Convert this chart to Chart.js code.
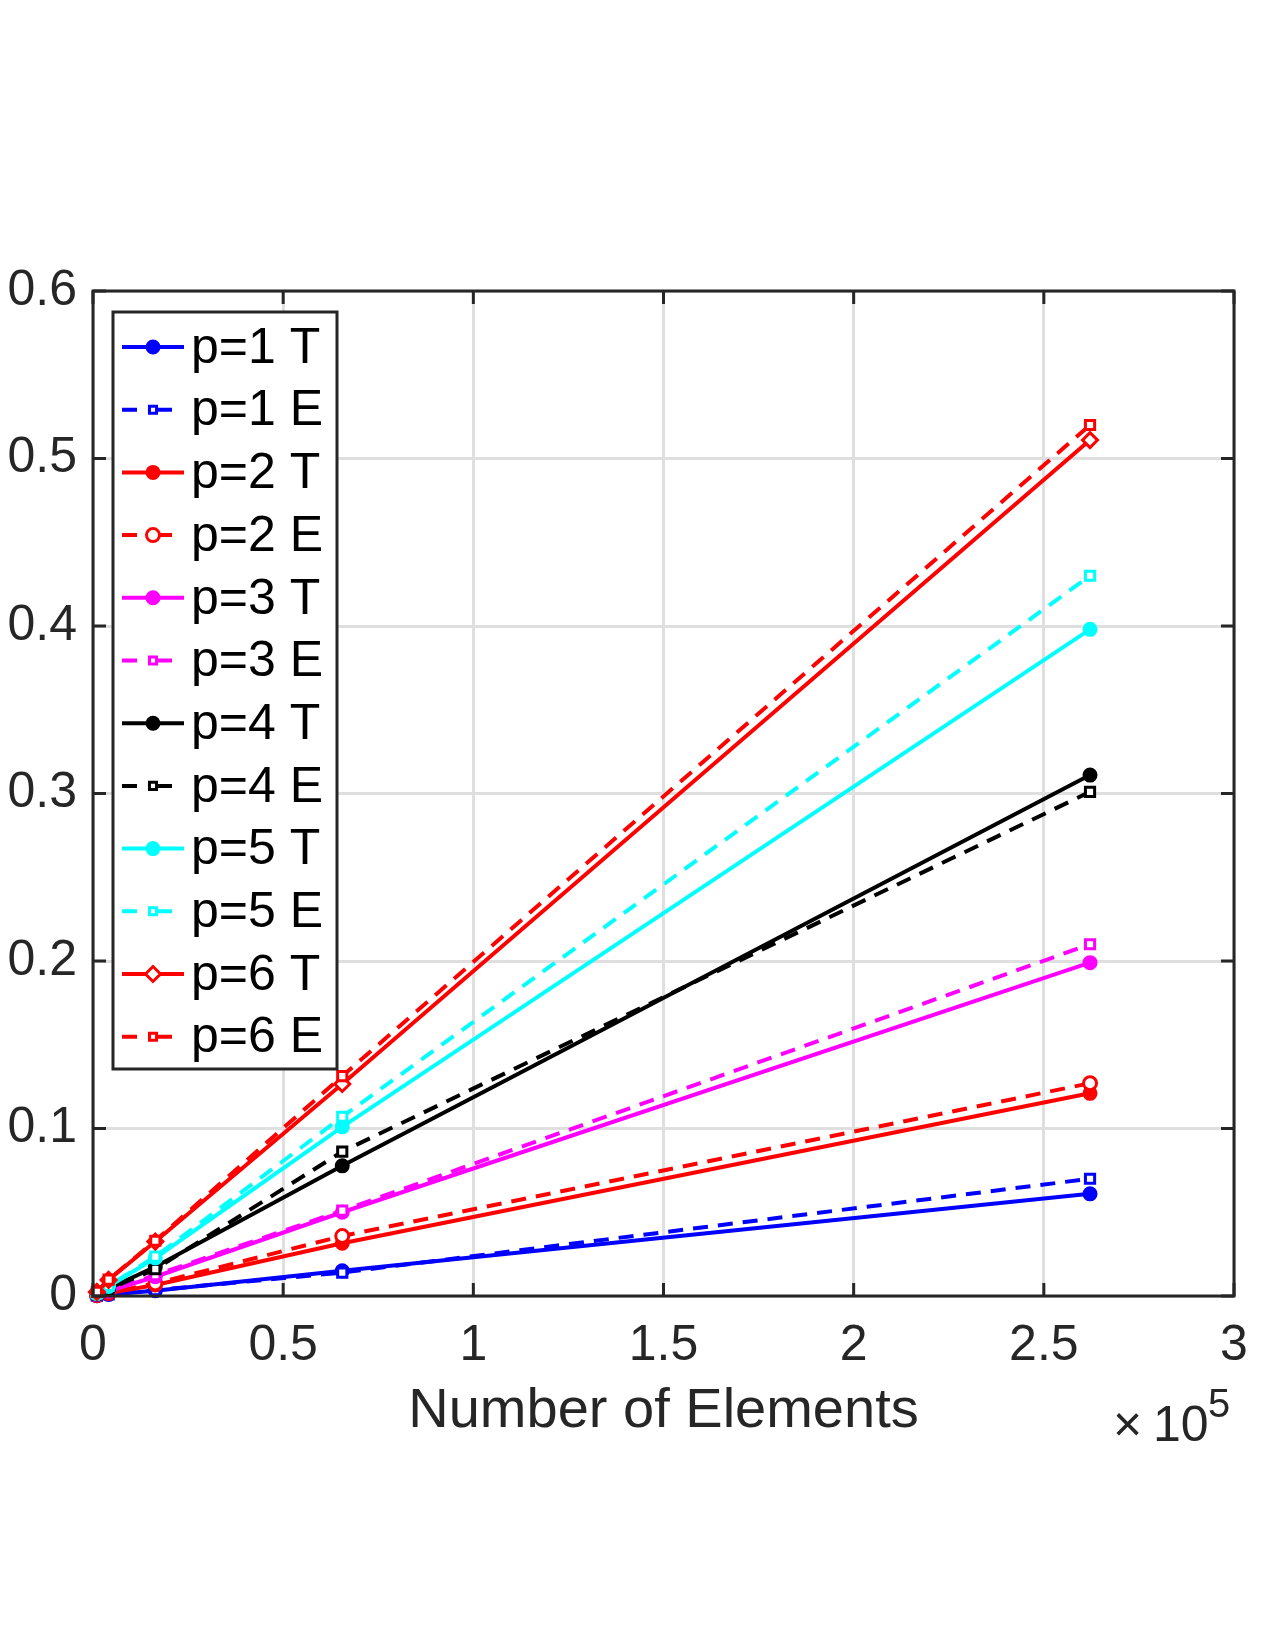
<!DOCTYPE html>
<html>
<head>
<meta charset="utf-8">
<script src="https://cdn.jsdelivr.net/npm/chart.js@4.4.1/dist/chart.umd.min.js"></script>
<style>
  html, body { margin: 0; padding: 0; background: #fff; }
  #wrap { width: 1275px; height: 1650px; }
</style>
</head>
<body>
<div id="wrap"><canvas id="timeChart" width="1275" height="1650"></canvas></div>
<script>
// dados
const elements = [1024, 4096, 16384, 65536, 262144];
const p1T = [0.0002, 0.0009, 0.0032, 0.0151, 0.061];
const p1E = [0.0002, 0.0009, 0.0035, 0.0140, 0.070];
const p2T = [0.0004, 0.0017, 0.0066, 0.0315, 0.121];
const p2E = [0.0005, 0.0019, 0.0075, 0.0358, 0.127];
const p3T = [0.0007, 0.0029, 0.0115, 0.0500, 0.199];
const p3E = [0.0008, 0.0031, 0.0125, 0.0510, 0.210];
const p4T = [0.0011, 0.0044, 0.0175, 0.0777, 0.311];
const p4E = [0.0010, 0.0040, 0.0160, 0.0862, 0.301];
const p5T = [0.0014, 0.0057, 0.0227, 0.1010, 0.398];
const p5E = [0.0015, 0.0060, 0.0235, 0.1070, 0.430];
const p6T = [0.0024, 0.0096, 0.0325, 0.1266, 0.511];
const p6E = [0.0025, 0.0098, 0.0330, 0.1313, 0.520];

const seriesLabels = ['p=1 T', 'p=1 E', 'p=2 T', 'p=2 E', 'p=3 T', 'p=3 E',
                      'p=4 T', 'p=4 E', 'p=5 T', 'p=5 E', 'p=6 T', 'p=6 E'];
const xTickLabels = ['0', '0.5', '1', '1.5', '2', '2.5', '3'];
const yTickLabels = ['0', '0.1', '0.2', '0.3', '0.4', '0.5', '0.6'];

const FONT = '"Liberation Sans", Arial, Helvetica, sans-serif';
const AXIS = '#262626';

// estilo de cada série: cor, tracejado, marcador
const styles = [
    { color: '#0000ff', dash: false, marker: 'circle', fill: true, r: 6 },
    { color: '#0000ff', dash: true,  marker: 'rect',   fill: false, r: 6.5 },
    { color: '#ff0000', dash: false, marker: 'circle', fill: true, r: 6 },
    { color: '#ff0000', dash: true,  marker: 'circle', fill: false, r: 6.5 },
    { color: '#ff00ff', dash: false, marker: 'circle', fill: true, r: 6 },
    { color: '#ff00ff', dash: true,  marker: 'rect',   fill: false, r: 6.5 },
    { color: '#000000', dash: false, marker: 'circle', fill: true, r: 6 },
    { color: '#000000', dash: true,  marker: 'rect',   fill: false, r: 6.5 },
    { color: '#00ffff', dash: false, marker: 'circle', fill: true, r: 6 },
    { color: '#00ffff', dash: true,  marker: 'rect',   fill: false, r: 6.5 },
    { color: '#ff0000', dash: false, marker: 'rectRot', fill: false, r: 7.5 },
    { color: '#ff0000', dash: true,  marker: 'rect',   fill: false, r: 6.5 }
];
const seriesValues = [p1T, p1E, p2T, p2E, p3T, p3E, p4T, p4E, p5T, p5E, p6T, p6E];

const datasets = seriesValues.map((vals, i) => {
    const s = styles[i];
    return {
        label: seriesLabels[i],
        data: vals.map((v, k) => ({ x: elements[k], y: v })),
        borderColor: s.color,
        backgroundColor: s.fill ? s.color : '#ffffff',
        borderWidth: 4,
        borderDash: s.dash ? [15, 10] : [],
        pointStyle: s.marker,
        pointRadius: s.r,
        pointBorderWidth: 3,
        pointBorderColor: s.color,
        pointBackgroundColor: s.fill ? s.color : '#ffffff',
        tension: 0,
        clip: false,
        order: seriesValues.length - i
    };
});

// moldura, ticks internos e textos extras
const framePlugin = {
    id: 'frame',
    afterDraw(chart) {
        const ctx = chart.ctx;
        const a = chart.chartArea;
        const xs = chart.scales.x, ys = chart.scales.y;
        ctx.save();
        ctx.strokeStyle = AXIS;
        ctx.lineWidth = 3;
        ctx.setLineDash([]);
        ctx.strokeRect(a.left, a.top, a.right - a.left, a.bottom - a.top);
        const tl = 13;
        ctx.beginPath();
        xs.ticks.forEach(t => {
            const px = xs.getPixelForValue(t.value);
            ctx.moveTo(px, a.bottom); ctx.lineTo(px, a.bottom - tl);
            ctx.moveTo(px, a.top); ctx.lineTo(px, a.top + tl);
        });
        ys.ticks.forEach(t => {
            const py = ys.getPixelForValue(t.value);
            ctx.moveTo(a.left, py); ctx.lineTo(a.left + tl, py);
            ctx.moveTo(a.right, py); ctx.lineTo(a.right - tl, py);
        });
        ctx.stroke();

        // rótulo do eixo x e fator de escala
        ctx.fillStyle = AXIS;
        ctx.textBaseline = 'alphabetic';
        ctx.textAlign = 'center';
        ctx.font = '56px ' + FONT;
        ctx.fillText('Number of Elements', (a.left + a.right) / 2, 1427);
        ctx.textAlign = 'left';
        ctx.font = '50px ' + FONT;
        ctx.fillText('\u00d7', 1113, 1441);
        ctx.fillText('10', 1153, 1441);
        ctx.font = '40px ' + FONT;
        ctx.fillText('5', 1208, 1417);

        // legenda
        const lx = 113, ly = 312, lw = 224, lh = 757;
        ctx.fillStyle = '#ffffff';
        ctx.fillRect(lx, ly, lw, lh);
        ctx.strokeStyle = AXIS;
        ctx.lineWidth = 3;
        ctx.strokeRect(lx, ly, lw, lh);
        const rowH = 62.7;
        chart.data.datasets.forEach((ds, i) => {
            const s = styles[i];
            const cy = 347 + i * rowH;
            ctx.strokeStyle = s.color;
            ctx.lineWidth = 4;
            ctx.beginPath();
            if (s.dash) {
                ctx.moveTo(122, cy); ctx.lineTo(137, cy);
                ctx.moveTo(148, cy); ctx.lineTo(172, cy);
            } else {
                ctx.moveTo(122, cy); ctx.lineTo(184, cy);
            }
            ctx.stroke();
            ctx.lineWidth = 3;
            ctx.fillStyle = s.fill ? s.color : '#ffffff';
            Chart.helpers.drawPoint(ctx, {
                pointStyle: s.marker, radius: s.marker === 'rect' ? 5 : s.r, rotation: 0, borderWidth: 3
            }, 153, cy);
            ctx.fillStyle = '#000000';
            ctx.font = '50px ' + FONT;
            ctx.textAlign = 'left';
            ctx.textBaseline = 'middle';
            ctx.fillText(ds.label, 191, cy + 2);
        });
        ctx.restore();
    }
};

const chart = new Chart(document.getElementById('timeChart'), {
    type: 'line',
    data: { datasets: datasets },
    options: {
        responsive: false,
        animation: false,
        devicePixelRatio: 1,
        layout: { padding: { top: 291, right: 41, left: 0, bottom: 0 } },
        scales: {
            x: {
                type: 'linear',
                min: 0,
                max: 300000,
                afterFit: (s) => { s.height = 354; },
                ticks: {
                    stepSize: 50000,
                    padding: 20,
                    color: AXIS,
                    font: { family: FONT, size: 50 },
                    maxRotation: 0,
                    callback: (v) => xTickLabels[Math.round(v / 50000)]
                },
                grid: { color: '#dfdfdf', lineWidth: 3, drawTicks: false },
                border: { display: false }
            },
            y: {
                min: 0,
                max: 0.6,
                afterFit: (s) => { s.width = 93; },
                ticks: {
                    stepSize: 0.1,
                    padding: 16,
                    color: AXIS,
                    font: { family: FONT, size: 50 },
                    callback: (v) => yTickLabels[Math.round(v * 10)]
                },
                grid: { color: '#dfdfdf', lineWidth: 3, drawTicks: false },
                border: { display: false }
            }
        },
        plugins: {
            legend: { display: false },
            title: { display: false },
            tooltip: { enabled: false }
        }
    },
    plugins: [framePlugin]
});
</script>
</body>
</html>
